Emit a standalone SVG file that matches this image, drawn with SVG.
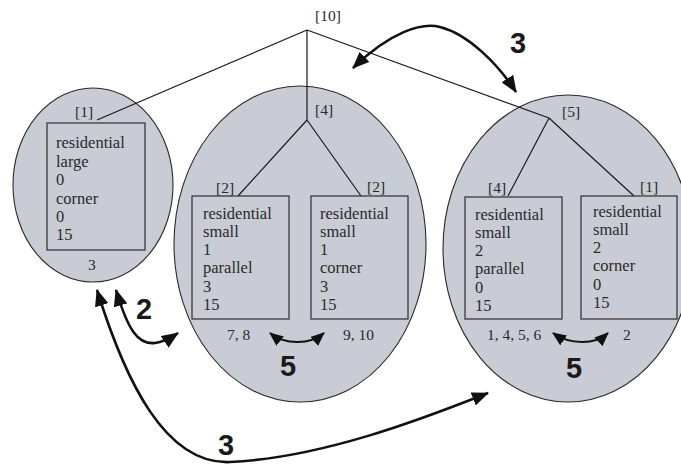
<svg xmlns="http://www.w3.org/2000/svg" width="681" height="466" viewBox="0 0 681 466">
<style>
.ell{fill:#c9ccd4;stroke:#2a2a2a;stroke-width:1.1}
.box{fill:none;stroke:#3a3a3a;stroke-width:1.3}
.t{font-family:"Liberation Serif","Times New Roman",serif;font-size:16.5px;fill:#2a2a2a}
.l{font-family:"Liberation Serif","Times New Roman",serif;font-size:15.5px;fill:#2a2a2a}
.b{font-family:"Liberation Sans",Arial,sans-serif;font-size:29px;font-weight:bold;fill:#1a1a1a}
.tree{stroke:#1a1a1a;stroke-width:1.2;fill:none}
.arr{stroke:#111;stroke-width:2.6;fill:none;marker-start:url(#ah);marker-end:url(#ah)}
.arrs{stroke:#111;stroke-width:2;fill:none;marker-start:url(#ahs);marker-end:url(#ahs)}
</style>
<defs>
<marker id="ah" markerUnits="userSpaceOnUse" markerWidth="18" markerHeight="14" refX="16" refY="7" orient="auto-start-reverse" viewBox="0 0 18 14">
<path d="M0,0 L17,7 L0,14 z" fill="#111"/>
</marker>
<marker id="ahs" markerUnits="userSpaceOnUse" markerWidth="15" markerHeight="12" refX="13" refY="6" orient="auto-start-reverse" viewBox="0 0 15 12">
<path d="M0,0 L14,6 L0,12 z" fill="#111"/>
</marker>
</defs>
<g id="cluster-left">
<ellipse class="ell" cx="93" cy="185" rx="80" ry="97"/>
</g>
<g id="cluster-middle">
<ellipse class="ell" cx="300" cy="244" rx="126" ry="158"/>
</g>
<g id="cluster-right">
<ellipse class="ell" cx="568" cy="248.5" rx="125" ry="153.5"/>
</g>
<g id="connectors">
<path class="tree" d="M307,30 L97,120 M307,30 L307,120 M307,120 L238,196 M307,120 L361,196 M307,30 L549,118 M549,118 L508,196 M549,118 L634,196"/>
<path class="arr" d="M353,68 C390,32 422,22 440,27 C468,34 498,64 516,92"/>
<path class="arr" d="M116,290 C128,330 138,345 155,343 C165,342 172,337 178,333"/>
<path class="arr" d="M97,290 C125,380 165,465 230,462 C320,458 420,420 488,393"/>
<path class="arrs" d="M270,333 C285,345 310,345 324,333"/>
<path class="arrs" d="M553,333 C570,345 595,345 608,333"/>
</g>
<g id="root">
<text class="l" x="315" y="21">[10]</text>
</g>
<g id="node-left">
<text class="l" x="75" y="117">[1]</text>
<rect class="box" x="47" y="123" width="98" height="127"/>
<text class="t" x="56" y="148">residential</text>
<text class="t" x="56" y="166.5">large</text>
<text class="t" x="56" y="185">0</text>
<text class="t" x="56" y="203.5">corner</text>
<text class="t" x="56" y="222">0</text>
<text class="t" x="56" y="240">15</text>
<text class="l" x="88" y="270">3</text>
</g>
<g id="node-mid">
<text class="l" x="315" y="115">[4]</text>
</g>
<g id="node-mid-1">
<text class="l" x="216" y="193">[2]</text>
<rect class="box" x="192" y="196" width="97" height="123"/>
<text class="t" x="203" y="218.5">residential</text>
<text class="t" x="203" y="236.8">small</text>
<text class="t" x="203" y="255">1</text>
<text class="t" x="203" y="273.3">parallel</text>
<text class="t" x="203" y="291.6">3</text>
<text class="t" x="203" y="310">15</text>
<text class="l" x="227" y="340">7, 8</text>
</g>
<g id="node-mid-2">
<text class="l" x="367" y="192">[2]</text>
<rect class="box" x="311" y="196" width="97" height="123"/>
<text class="t" x="320" y="218.5">residential</text>
<text class="t" x="320" y="236.8">small</text>
<text class="t" x="320" y="255">1</text>
<text class="t" x="320" y="273.3">corner</text>
<text class="t" x="320" y="291.6">3</text>
<text class="t" x="320" y="310">15</text>
<text class="l" x="343" y="340">9, 10</text>
</g>
<g id="node-right">
<text class="l" x="562" y="117">[5]</text>
</g>
<g id="node-right-1">
<text class="l" x="488" y="193">[4]</text>
<rect class="box" x="465" y="197" width="97" height="122"/>
<text class="t" x="475" y="219.5">residential</text>
<text class="t" x="475" y="237.8">small</text>
<text class="t" x="475" y="256">2</text>
<text class="t" x="475" y="274.3">parallel</text>
<text class="t" x="475" y="292.6">0</text>
<text class="t" x="475" y="311">15</text>
<text class="l" x="487" y="340">1, 4, 5, 6</text>
</g>
<g id="node-right-2">
<text class="l" x="640" y="192">[1]</text>
<rect class="box" x="581" y="196" width="96" height="123"/>
<text class="t" x="593" y="216.5">residential</text>
<text class="t" x="593" y="234.8">small</text>
<text class="t" x="593" y="253">2</text>
<text class="t" x="593" y="271.3">corner</text>
<text class="t" x="593" y="289.6">0</text>
<text class="t" x="593" y="308">15</text>
<text class="l" x="623" y="340">2</text>
</g>
<g id="labels">
<text class="b" x="510" y="53">3</text>
<text class="b" x="136" y="319">2</text>
<text class="b" x="280" y="376">5</text>
<text class="b" x="566" y="378">5</text>
<text class="b" x="218" y="455">3</text>
</g>
</svg>
